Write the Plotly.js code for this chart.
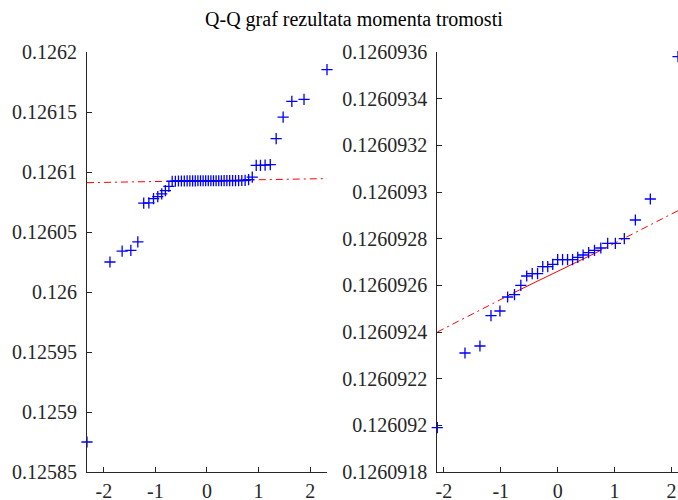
<!DOCTYPE html>
<html><head><meta charset="utf-8">
<script src="https://cdn.plot.ly/plotly-3.0.1.min.js"></script>
<style>html,body{margin:0;padding:0;background:#fff;}#chart{width:678px;height:500px;}</style>
</head><body><div id="chart"></div>
<script>
const chartTitle = 'Q-Q graf rezultata momenta tromosti';

// Left panel: theoretical normal quantiles (n = 50) and sorted sample values
const leftQuantiles = [
  -2.3263, -1.8808, -1.6449, -1.4758, -1.3408, -1.2265, -1.1264, -1.0364, -0.9542, -0.8779,
  -0.8064, -0.7388, -0.6745, -0.6128, -0.5534, -0.4959, -0.4399, -0.3853, -0.3319, -0.2793,
  -0.2275, -0.1764, -0.1257, -0.0753, -0.0251, 0.0251, 0.0753, 0.1257, 0.1764, 0.2275,
  0.2793, 0.3319, 0.3853, 0.4399, 0.4959, 0.5534, 0.6128, 0.6745, 0.7388, 0.8064,
  0.8779, 0.9542, 1.0364, 1.1264, 1.2265, 1.3408, 1.4758, 1.6449, 1.8808, 2.3263
];
const leftValues = [
  0.125875, 0.126025, 0.126034, 0.1260347, 0.1260417, 0.126074, 0.1260742, 0.1260778, 0.1260795, 0.1260818,
  0.1260845, 0.126088, 0.1260923, 0.1260923, 0.1260925, 0.1260925, 0.1260925, 0.1260926, 0.1260926, 0.1260926,
  0.1260926, 0.1260927, 0.1260927, 0.1260927, 0.1260927, 0.1260927, 0.1260927, 0.1260927, 0.1260927, 0.1260927,
  0.1260927, 0.1260928, 0.1260928, 0.1260928, 0.1260928, 0.1260928, 0.1260928, 0.1260929, 0.126093, 0.1260936,
  0.1260958, 0.1261056, 0.1261056, 0.1261058, 0.1261062, 0.1261278, 0.1261458, 0.1261589, 0.1261606, 0.1261853
];
const leftLineX = [-2.3263, -0.6745, 0.6745, 2.3263];
const leftLineY = [0.1260911, 0.1260923, 0.1260933, 0.1260945];
const leftYTicks = [0.12585, 0.1259, 0.12595, 0.126, 0.12605, 0.1261, 0.12615, 0.1262];
const leftYTickText = ['0.12585', '0.1259', '0.12595', '0.126', '0.12605', '0.1261', '0.12615', '0.1262'];

// Right panel: theoretical normal quantiles (n = 29) and sorted sample values
const rightQuantiles = [
  -2.114, -1.628, -1.365, -1.171, -1.014, -0.879, -0.758, -0.647, -0.544, -0.447,
  -0.353, -0.262, -0.174, -0.0865, 0, 0.0865, 0.174, 0.262, 0.353, 0.447,
  0.544, 0.647, 0.758, 0.879, 1.014, 1.171, 1.365, 1.628, 2.114
];
const rightValues = [
  0.12609199, 0.12609231, 0.12609234, 0.12609247, 0.12609249, 0.12609255, 0.12609256, 0.1260926, 0.12609264, 0.12609265,
  0.12609265, 0.12609268, 0.12609268, 0.12609269, 0.12609271, 0.12609271, 0.12609271, 0.12609271, 0.12609272, 0.12609273,
  0.12609274, 0.12609275, 0.12609276, 0.12609278, 0.12609278, 0.1260928, 0.12609288, 0.12609297, 0.12609358
];
const rightLineX = [-2.114, -0.6745, 0.6745, 2.114];
const rightLineY = [0.1260924, 0.12609258, 0.12609274, 0.12609292];
const rightYTicks = [0.1260918, 0.126092, 0.1260922, 0.1260924, 0.1260926, 0.1260928, 0.126093, 0.1260932, 0.1260934, 0.1260936];
const rightYTickText = ['0.1260918', '0.126092', '0.1260922', '0.1260924', '0.1260926', '0.1260928', '0.126093', '0.1260932', '0.1260934', '0.1260936'];

const xTicks = [-2, -1, 0, 1, 2];
const xTickText = ['-2', '-1', '0', '1', '2'];

const FONT = '"Liberation Serif", "DejaVu Serif", serif';
const AX = '#262626';
const markerStyle = {symbol: 'cross-thin', size: 8, line: {color: '#0000ff', width: 1.3}, color: '#0000ff'};

function lineTraces(lx, ly, xa, ya) {
  const dd = '7px,4px,2px,4px';
  return [
    {x: lx.slice(0, 2), y: ly.slice(0, 2), xaxis: xa, yaxis: ya, mode: 'lines', line: {color: '#ff0000', width: 1, dash: dd}, hoverinfo: 'skip'},
    {x: lx.slice(1, 3), y: ly.slice(1, 3), xaxis: xa, yaxis: ya, mode: 'lines', line: {color: '#ff0000', width: 1}, hoverinfo: 'skip'},
    {x: lx.slice(2, 4), y: ly.slice(2, 4), xaxis: xa, yaxis: ya, mode: 'lines', line: {color: '#ff0000', width: 1, dash: dd}, hoverinfo: 'skip'}
  ];
}

const data = [
  ...lineTraces(leftLineX, leftLineY, 'x', 'y'),
  ...lineTraces(rightLineX, rightLineY, 'x2', 'y2'),
  {x: leftQuantiles, y: leftValues, xaxis: 'x', yaxis: 'y', mode: 'markers', marker: markerStyle, cliponaxis: false},
  {x: rightQuantiles, y: rightValues, xaxis: 'x2', yaxis: 'y2', mode: 'markers', marker: markerStyle, cliponaxis: false}
];

const axisCommon = {
  showgrid: false, zeroline: false, showline: true, linecolor: AX, linewidth: 1,
  ticks: 'inside', ticklen: 5, tickwidth: 1, tickcolor: AX, mirror: false,
  tickfont: {family: FONT, size: 20, color: AX}, automargin: false
};

const layout = {
  width: 678, height: 500,
  paper_bgcolor: '#fff', plot_bgcolor: '#fff',
  showlegend: false,
  margin: {l: 0, r: 0, t: 52, b: 28, pad: 0},
  title: {text: chartTitle, font: {family: FONT, size: 20, color: '#000'}, x: 0.522, xanchor: 'center', y: 0.962, yanchor: 'middle', xref: 'container', yref: 'container'},
  xaxis: Object.assign({}, axisCommon, {domain: [0.1283, 0.4823], range: [-2.3263, 2.3263], tickmode: 'array', tickvals: xTicks, ticktext: xTickText, anchor: 'y', ticklabelstandoff: 1}),
  yaxis: Object.assign({}, axisCommon, {range: [0.12585, 0.1262], tickmode: 'array', tickvals: leftYTicks, ticktext: leftYTickText, anchor: 'x', ticklabelstandoff: 5}),
  xaxis2: Object.assign({}, axisCommon, {domain: [0.645, 1], range: [-2.114, 2.114], tickmode: 'array', tickvals: xTicks, ticktext: xTickText, anchor: 'y2', ticklabelstandoff: 1}),
  yaxis2: Object.assign({}, axisCommon, {range: [0.1260918, 0.1260936], tickmode: 'array', tickvals: rightYTicks, ticktext: rightYTickText, anchor: 'x2', ticklabelstandoff: 5})
};

Plotly.newPlot('chart', data, layout, {displayModeBar: false, staticPlot: true});
</script>
</body></html>
